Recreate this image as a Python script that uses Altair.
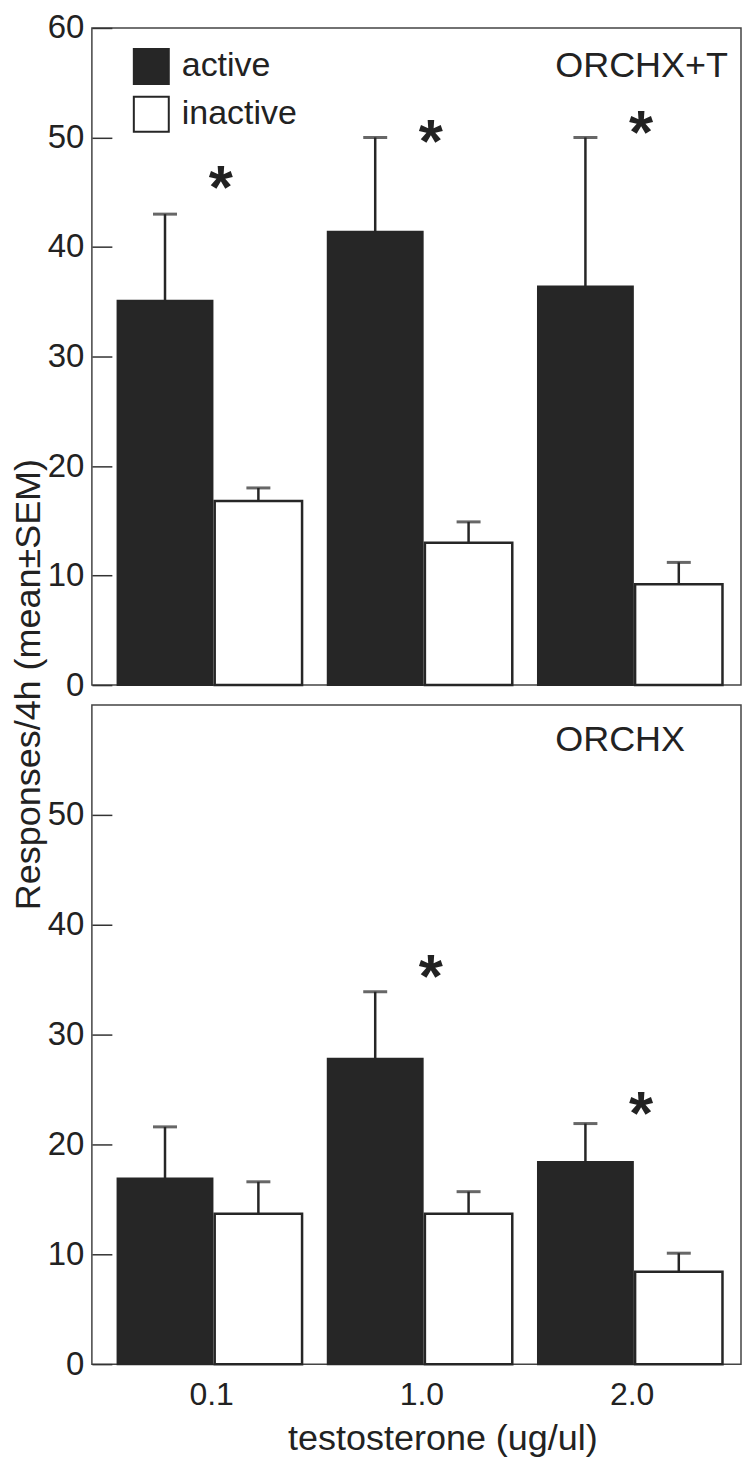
import altair as alt
import pandas as pd

groups = ["0.1", "1.0", "2.0"]
types = ["active", "inactive"]
panel_labels = ["ORCHX+T", "ORCHX"]

# ORCHX+T panel (mean and SEM)
orchx_t_active = [35.1, 41.4, 36.4]
orchx_t_active_sem = [7.9, 8.6, 13.6]
orchx_t_inactive = [16.8, 13.0, 9.2]
orchx_t_inactive_sem = [1.2, 1.9, 2.0]
orchx_t_star = [46.5, 50.7, 51.5]

# ORCHX panel (mean and SEM)
orchx_active = [16.9, 27.8, 18.4]
orchx_active_sem = [4.7, 6.1, 3.5]
orchx_inactive = [13.7, 13.7, 8.4]
orchx_inactive_sem = [2.9, 2.0, 1.7]
orchx_star = [None, 36.3, 23.9]

top_ticks = [0, 10, 20, 30, 40, 50, 60]
bottom_ticks = [0, 10, 20, 30, 40, 50]

FONT = "Liberation Sans"
INK = "#262626"
TXT = "#222222"
W = 650


def make_df(act, act_sem, inact, inact_sem):
    rows = []
    for g, m, s in zip(groups, act, act_sem):
        rows.append({"dose": g, "type": "active", "mean": m, "upper": round(m + s, 2)})
    for g, m, s in zip(groups, inact, inact_sem):
        rows.append({"dose": g, "type": "inactive", "mean": m, "upper": round(m + s, 2)})
    return pd.DataFrame(rows)


def panel(df, stars, label, ticks, height, label_y, is_top):
    x_axis = None if is_top else alt.Axis(
        labelFontSize=32, labelFont=FONT, labelColor=TXT, labelAngle=0, labelPadding=15,
        ticks=False, tickSize=0, domain=False,
        title="testosterone (ug/ul)", titleFontSize=36, titleFont=FONT, titleFontWeight="normal",
        titleColor=TXT, titleX=351, titleY=85, titleBaseline="alphabetic", titleAlign="center",
    )
    xenc = alt.X("dose:N", sort=groups,
                 scale=alt.Scale(domain=groups, paddingInner=0.1116, paddingOuter=0.0998, align=0.63),
                 axis=x_axis)
    xo = alt.XOffset("type:N", sort=types,
                     scale=alt.Scale(domain=types, paddingInner=0, paddingOuter=0))
    y_axis = alt.Axis(
        values=ticks, tickSize=20, offset=-20, domain=False, grid=False,
        labelPadding=8, labelFontSize=33, labelFont=FONT, labelColor=TXT,
        tickColor="#333333", tickWidth=1.5,
        title="Responses/4h (mean±SEM)" if is_top else None,
        titleFontSize=36, titleFont=FONT, titleFontWeight="normal", titleColor=TXT,
        titleX=-72, titleY=657, titleBaseline="alphabetic", titleAlign="center", titleAngle=270,
    )
    yscale = alt.Scale(domain=[0, 60], nice=False, zero=True)

    def yenc(field):
        return alt.Y(field, type="quantitative", scale=yscale, axis=y_axis,
                     title="Responses/4h (mean±SEM)" if is_top else None)

    legend = alt.Legend(
        orient="none", legendX=41, legendY=20, title=None,
        symbolType="square", symbolSize=1225, symbolStrokeColor=INK, symbolStrokeWidth=2,
        labelFontSize=34, labelFont=FONT, labelColor=TXT, labelOffset=12,
        rowPadding=5, padding=0,
    ) if is_top else None
    color = alt.Color("type:N", scale=alt.Scale(domain=types, range=[INK, "#ffffff"]), legend=legend)

    base = alt.Chart(df)
    act = base.transform_filter(alt.datum.type == "active").mark_bar(
        width=95, stroke=INK, strokeWidth=2
    ).encode(x=xenc, xOffset=xo, y=yenc("mean"), color=color)
    inact = base.transform_filter(alt.datum.type == "inactive").mark_bar(
        width=87.5, stroke=INK, strokeWidth=2.5
    ).encode(x=xenc, xOffset=xo, y=yenc("mean"), color=color)
    err = base.mark_rule(color=INK, strokeWidth=2.5).encode(
        x=xenc, xOffset=xo, y=yenc("mean"), y2="upper:Q")
    cap = base.mark_tick(orient="horizontal", size=24, thickness=3, color=INK).encode(
        x=xenc, xOffset=xo, y=yenc("upper"))
    star = alt.Chart(stars).mark_text(
        text="*", font=FONT, fontWeight="bold", fontSize=62, color=TXT,
        baseline="alphabetic", dx=9, dy=32,
    ).encode(x=xenc, y=yenc("star"))
    lab = alt.Chart(pd.DataFrame({"label": [label]})).mark_text(
        font=FONT, fontSize=36, color=TXT, align="left", baseline="alphabetic",
    ).encode(text="label:N", x=alt.value(464), y=alt.value(label_y))

    return alt.layer(act, inact, err, cap, star, lab).properties(width=W, height=height)


top_df = make_df(orchx_t_active, orchx_t_active_sem, orchx_t_inactive, orchx_t_inactive_sem)
bot_df = make_df(orchx_active, orchx_active_sem, orchx_inactive, orchx_inactive_sem)
top_stars = pd.DataFrame({"dose": groups, "star": orchx_t_star}).dropna()
bot_stars = pd.DataFrame({"dose": groups, "star": orchx_star}).dropna()

top = panel(top_df, top_stars, panel_labels[0], top_ticks, 658, 49, True)
bottom = panel(bot_df, bot_stars, panel_labels[1], bottom_ticks, 660, 46, False)

chart = alt.vconcat(top, bottom, spacing=20, bounds="flush").properties(
    padding={"left": 2, "top": 2, "right": 0, "bottom": 0}
).configure(
    font=FONT
).configure_view(
    stroke="#444444", strokeWidth=1.5
)

chart.save("out.html", embed_options={"renderer": "svg", "actions": False})
